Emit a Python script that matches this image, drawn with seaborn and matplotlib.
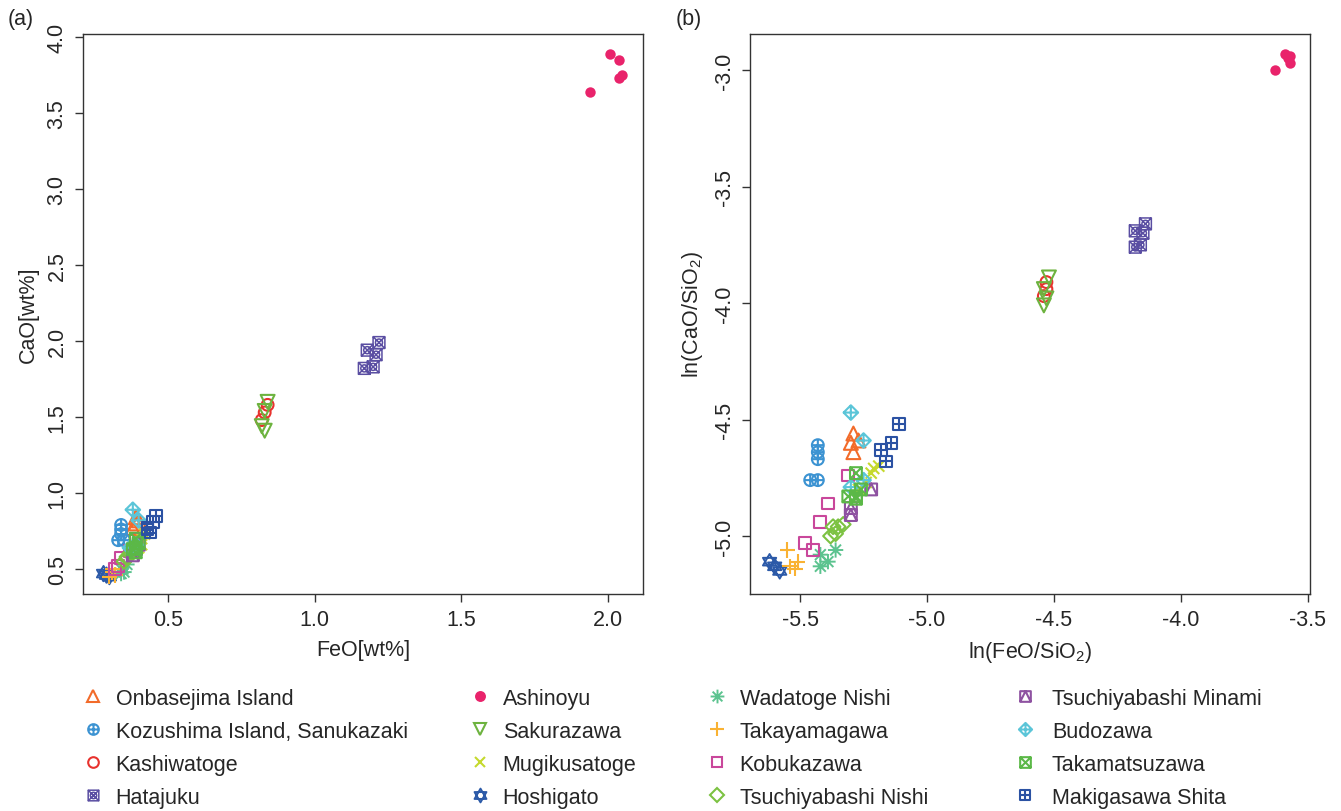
"""
Two-panel scatter of CaO vs FeO (raw wt% and log-ratio to SiO2)
for obsidian source localities.
"""

import matplotlib
matplotlib.use("Agg")
import matplotlib.pyplot as plt
from matplotlib.lines import Line2D
from matplotlib.markers import MarkerStyle
from matplotlib.path import Path
import numpy as np
import pandas as pd
import seaborn as sns

# ---- data: panel (a) FeO[wt%], CaO[wt%] ----
onbasejima_a = [(0.39, 0.84), (0.39, 0.80), (0.38, 0.77), (0.40, 0.82)]
kozushima_a = [(0.34, 0.79), (0.34, 0.76), (0.34, 0.73), (0.33, 0.69), (0.35, 0.69)]
kashiwatoge_a = [(0.84, 1.58), (0.83, 1.53), (0.82, 1.48)]
hatajuku_a = [(1.18, 1.94), (1.22, 1.99), (1.21, 1.91), (1.20, 1.83), (1.17, 1.82)]
ashinoyu_a = [(2.01, 3.89), (2.04, 3.85), (2.05, 3.75), (2.04, 3.73), (1.94, 3.64)]
sakurazawa_a = [(0.84, 1.60), (0.83, 1.54), (0.82, 1.44), (0.83, 1.41)]
mugikusatoge_a = [(0.40, 0.64), (0.41, 0.66), (0.41, 0.70), (0.42, 0.73)]
hoshigato_a = [(0.28, 0.47), (0.29, 0.46), (0.30, 0.45)]
wadatoge_a = [(0.36, 0.53), (0.34, 0.50), (0.35, 0.48), (0.34, 0.47)]
takayamagawa_a = [(0.31, 0.48), (0.32, 0.46), (0.30, 0.45), (0.31, 0.50)]
kobukazawa_a = [(0.39, 0.70), (0.37, 0.62), (0.34, 0.57), (0.33, 0.52), (0.32, 0.50)]
tsuchi_nishi_a = [(0.35, 0.55), (0.36, 0.58), (0.37, 0.60), (0.38, 0.63), (0.36, 0.57)]
tsuchi_minami_a = [(0.38, 0.59), (0.39, 0.63), (0.40, 0.66)]
budozawa_a = [(0.38, 0.89), (0.40, 0.82), (0.39, 0.66), (0.37, 0.64)]
takamatsuzawa_a = [(0.39, 0.70), (0.40, 0.67), (0.39, 0.64), (0.38, 0.63), (0.39, 0.61)]
makigasawa_a = [(0.46, 0.85), (0.45, 0.81), (0.43, 0.77), (0.44, 0.74), (0.43, 0.76)]

# ---- data: panel (b) ln(FeO/SiO2), ln(CaO/SiO2) ----
onbasejima_b = [(-5.29, -4.56), (-5.30, -4.60), (-5.29, -4.64), (-5.27, -4.59)]
kozushima_b = [(-5.43, -4.61), (-5.43, -4.64), (-5.43, -4.67), (-5.46, -4.76), (-5.43, -4.76)]
kashiwatoge_b = [(-4.53, -3.91), (-4.53, -3.94), (-4.54, -3.97)]
hatajuku_b = [(-4.14, -3.66), (-4.18, -3.69), (-4.15, -3.70), (-4.18, -3.76), (-4.16, -3.75)]
ashinoyu_b = [(-3.59, -2.93), (-3.57, -2.94), (-3.57, -2.97), (-3.58, -2.95), (-3.63, -3.00)]
sakurazawa_b = [(-4.52, -3.89), (-4.54, -3.94), (-4.53, -3.98), (-4.54, -4.01)]
mugikusatoge_b = [(-5.19, -4.70), (-5.21, -4.71), (-5.22, -4.73), (-5.24, -4.77), (-5.27, -4.80)]
hoshigato_b = [(-5.62, -5.11), (-5.60, -5.13), (-5.58, -5.15)]
wadatoge_b = [(-5.36, -5.06), (-5.42, -5.08), (-5.39, -5.11), (-5.42, -5.13)]
takayamagawa_b = [(-5.55, -5.06), (-5.51, -5.11), (-5.54, -5.13), (-5.52, -5.14)]
kobukazawa_b = [(-5.31, -4.74), (-5.39, -4.86), (-5.42, -4.94), (-5.48, -5.03), (-5.45, -5.06)]
tsuchi_nishi_b = [(-5.37, -4.96), (-5.35, -4.96), (-5.36, -4.99), (-5.38, -5.00), (-5.33, -4.95)]
tsuchi_minami_b = [(-5.22, -4.80), (-5.30, -4.88), (-5.30, -4.91)]
budozawa_b = [(-5.30, -4.47), (-5.25, -4.59), (-5.25, -4.76), (-5.30, -4.79)]
takamatsuzawa_b = [(-5.28, -4.73), (-5.26, -4.80), (-5.28, -4.83), (-5.31, -4.83), (-5.28, -4.84)]
makigasawa_b = [(-5.11, -4.52), (-5.14, -4.60), (-5.18, -4.63), (-5.16, -4.68)]

sites = [
    "Onbasejima Island", "Kozushima Island, Sanukazaki", "Kashiwatoge", "Hatajuku",
    "Ashinoyu", "Sakurazawa", "Mugikusatoge", "Hoshigato",
    "Wadatoge Nishi", "Takayamagawa", "Kobukazawa", "Tsuchiyabashi Nishi",
    "Tsuchiyabashi Minami", "Budozawa", "Takamatsuzawa", "Makigasawa Shita",
]
panel_a = [onbasejima_a, kozushima_a, kashiwatoge_a, hatajuku_a,
           ashinoyu_a, sakurazawa_a, mugikusatoge_a, hoshigato_a,
           wadatoge_a, takayamagawa_a, kobukazawa_a, tsuchi_nishi_a,
           tsuchi_minami_a, budozawa_a, takamatsuzawa_a, makigasawa_a]
panel_b = [onbasejima_b, kozushima_b, kashiwatoge_b, hatajuku_b,
           ashinoyu_b, sakurazawa_b, mugikusatoge_b, hoshigato_b,
           wadatoge_b, takayamagawa_b, kobukazawa_b, tsuchi_nishi_b,
           tsuchi_minami_b, budozawa_b, takamatsuzawa_b, makigasawa_b]
colors = [
    "#F26B2A", "#3C93D2", "#E8322E", "#5A4EA2",
    "#E9236B", "#6DB33F", "#C5D92D", "#2C5AA8",
    "#5CC38F", "#F9B233", "#C9479B", "#7CC242",
    "#8E52A1", "#5BC5D8", "#5BB847", "#2B52A3",
]

# ---- marker shapes (R pch style) ----
M, L, C = Path.MOVETO, Path.LINETO, Path.CLOSEPOLY
SQUARE = Path([(-1, -1), (1, -1), (1, 1), (-1, 1), (-1, -1)], [M, L, L, L, C])
DIAMOND = Path([(0, -1), (1, 0), (0, 1), (-1, 0), (0, -1)], [M, L, L, L, C])
XLINES = Path([(-1, -1), (1, 1), (-1, 1), (1, -1)], [M, L, M, L])
PLUS = Path([(-1, 0), (1, 0), (0, -1), (0, 1)], [M, L, M, L])
R = 0.7071
ASTER = Path([(-1, 0), (1, 0), (0, -1), (0, 1), (-R, -R), (R, R), (-R, R), (R, -R)],
             [M, L, M, L, M, L, M, L])
STAR = Path([(0, 1), (0.866, -0.5), (-0.866, -0.5), (0, 1),
             (0, -1), (0.866, 0.5), (-0.866, 0.5), (0, -1)],
            [M, L, L, C, M, L, L, C])
TRI_IN = Path([(-1, -1), (0, 1), (1, -1)], [M, L, L])
circle = Path.unit_circle()
small_circle = Path(circle.vertices * 0.6, circle.codes)


def open_marker(shape):
    return MarkerStyle(shape, fillstyle="none")


markers = [
    open_marker("^"),
    open_marker(Path.make_compound_path(circle, PLUS)),
    open_marker("o"),
    open_marker(Path.make_compound_path(SQUARE, XLINES, small_circle)),
    MarkerStyle("o"),
    open_marker("v"),
    open_marker("x"),
    open_marker(STAR),
    open_marker(ASTER),
    open_marker("+"),
    open_marker("s"),
    open_marker("D"),
    open_marker(Path.make_compound_path(SQUARE, TRI_IN)),
    open_marker(Path.make_compound_path(DIAMOND, PLUS)),
    open_marker(Path.make_compound_path(SQUARE, XLINES)),
    open_marker(Path.make_compound_path(SQUARE, PLUS)),
]
sizes = [10, 8.5, 8.5, 8.5, 7.5, 10, 8, 11, 11, 11, 8.5, 7.5, 8.5, 10.5, 8.5, 8.5]
widths = [1.5, 1.5, 1.5, 1.1, 0, 1.5, 1.5, 1.4, 1.4, 1.5, 1.5, 1.5, 1.5, 1.5, 1.5, 1.5]


def build_frame():
    rows = []
    for site, pa, pb in zip(sites, panel_a, panel_b):
        for x, y in pa:
            rows.append({"site": site, "panel": "a", "x": x, "y": y})
        for x, y in pb:
            rows.append({"site": site, "panel": "b", "x": x, "y": y})
    return pd.DataFrame(rows)


def style_axes(ax):
    for sp in ax.spines.values():
        sp.set_visible(True)
        sp.set_color("#333333")
        sp.set_linewidth(1.0)
    ax.tick_params(direction="out", length=6, width=1, color="#333333",
                   labelsize=15.5, pad=5, top=False, right=False)
    for lab in ax.get_yticklabels():
        lab.set_rotation(90)
        lab.set_va("center")


def draw_panel(ax, df):
    for site, color, marker, ms, lw in zip(sites, colors, markers, sizes, widths):
        sub = df[df["site"] == site]
        kws = dict(color=color, s=ms ** 2, linewidth=lw, legend=False, ax=ax)
        if marker.is_filled():
            kws.update(edgecolor=color, linewidth=0)
        sns.scatterplot(x=sub["x"].to_numpy(), y=sub["y"].to_numpy(), marker=marker, **kws)


def main():
    sns.set_style("ticks")
    plt.rcParams["font.family"] = ["Liberation Sans", "DejaVu Sans"]
    plt.rcParams["mathtext.fontset"] = "custom"
    plt.rcParams["mathtext.rm"] = "Liberation Sans"
    plt.rcParams["axes.unicode_minus"] = False

    df = build_frame()
    fig = plt.figure(figsize=(13.41, 8.12), dpi=100)
    ax_a = fig.add_axes([0.0619, 0.2672, 0.4176, 0.6897])
    ax_b = fig.add_axes([0.5593, 0.2672, 0.4176, 0.6897])

    draw_panel(ax_a, df[df["panel"] == "a"])
    draw_panel(ax_b, df[df["panel"] == "b"])

    ax_a.set_xlim(0.210, 2.121)
    ax_a.set_ylim(0.3355, 4.02)
    ax_a.set_xticks([0.5, 1.0, 1.5, 2.0], ["0.5", "1.0", "1.5", "2.0"])
    ax_a.set_yticks(np.arange(0.5, 4.01, 0.5),
                    ["0.5", "1.0", "1.5", "2.0", "2.5", "3.0", "3.5", "4.0"])
    ax_a.set_xlabel("FeO[wt%]", fontsize=15.5, labelpad=6)
    ax_a.set_ylabel("CaO[wt%]", fontsize=15.5, labelpad=6)

    ax_b.set_xlim(-5.697, -3.492)
    ax_b.set_ylim(-5.249, -2.845)
    ax_b.set_xticks([-5.5, -5.0, -4.5, -4.0, -3.5], ["-5.5", "-5.0", "-4.5", "-4.0", "-3.5"])
    ax_b.set_yticks([-5.0, -4.5, -4.0, -3.5, -3.0], ["-5.0", "-4.5", "-4.0", "-3.5", "-3.0"])
    ax_b.set_xlabel("ln(FeO/SiO$_2$)", fontsize=15.5, labelpad=6)
    ax_b.set_ylabel("ln(CaO/SiO$_2$)", fontsize=15.5, labelpad=6)

    for ax in (ax_a, ax_b):
        style_axes(ax)

    fig.text(8 / 1341, 1 - 20 / 812, "(a)", fontsize=15.5, va="center", ha="left")
    fig.text(676 / 1341, 1 - 20 / 812, "(b)", fontsize=15.5, va="center", ha="left")

    # legend: four columns placed by hand
    col_x = [93, 480, 717, 1025]
    col_pad = [0.55, 0.55, 0.55, 0.75]
    for col in range(4):
        handles = []
        for i in range(col * 4, col * 4 + 4):
            handles.append(Line2D([], [], linestyle="none", marker=markers[i],
                                  color=colors[i], markersize=sizes[i] * 0.9,
                                  markeredgewidth=max(widths[i], 1.1)))
        fig.legend(handles, sites[col * 4: col * 4 + 4],
                   loc="upper left",
                   bbox_to_anchor=((col_x[col] - 10.75) / 1341, 1 - 689 / 812),
                   frameon=False, fontsize=15.5, handlelength=1.0,
                   handletextpad=col_pad[col], labelspacing=0.55,
                   borderpad=0, borderaxespad=0)

    fig.savefig("out.png", dpi=100)


if __name__ == "__main__":
    main()
